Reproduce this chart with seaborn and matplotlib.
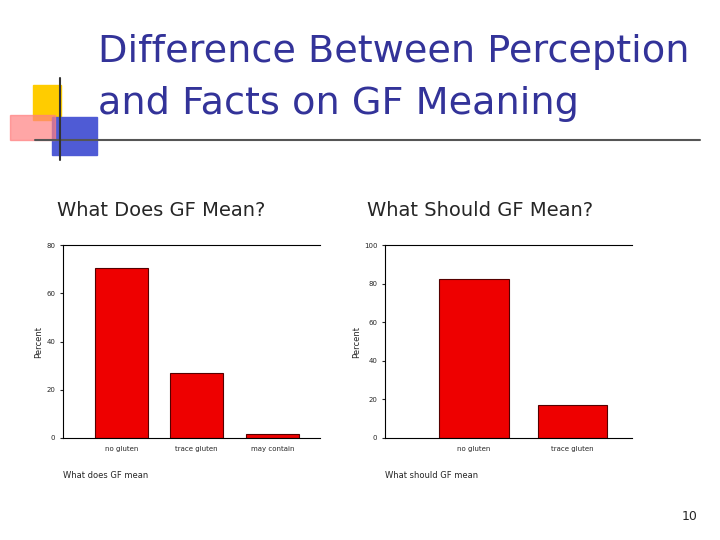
import matplotlib
matplotlib.use("Agg")
import matplotlib.pyplot as plt
import seaborn as sns
from matplotlib.patches import Rectangle
from matplotlib.lines import Line2D

does_cats = ["no gluten", "trace gluten", "may contain"]
does_pct = [70.5, 27.0, 1.7]
should_cats = ["no gluten", "trace gluten"]
should_pct = [82.5, 17.0]

sns.set_style("white")
fig = plt.figure(figsize=(7.2, 5.4), dpi=100)

W, H = 720, 540
def fx(x): return x / W
def fy(y): return 1 - y / H

# slide decoration
fig.patches.append(Rectangle((fx(33), fy(120)), 28/W, 35/H, transform=fig.transFigure, color="#ffcc00", zorder=0))
fig.patches.append(Rectangle((fx(52), fy(155)), 45/W, 38/H, transform=fig.transFigure, color="#4f5bd5", zorder=0))
fig.patches.append(Rectangle((fx(10), fy(140)), 45/W, 25/H, transform=fig.transFigure, color="#ff8080", alpha=0.7, zorder=0))
fig.lines.append(Line2D([fx(35), fx(700)], [fy(140), fy(140)], transform=fig.transFigure, color="#555555", lw=1.5))
fig.lines.append(Line2D([fx(60), fx(60)], [fy(78), fy(160)], transform=fig.transFigure, color="#333333", lw=1.5))

fig.text(fx(98), fy(52), "Difference Between Perception", fontsize=27.5, color="#333399", va="center")
fig.text(fx(98), fy(104), "and Facts on GF Meaning", fontsize=27.5, color="#333399", va="center")
fig.text(fx(57), fy(210), "What Does GF Mean?", fontsize=14, va="center")
fig.text(fx(367), fy(210), "What Should GF Mean?", fontsize=14, va="center")
fig.text(fx(698), fy(516), "10", fontsize=9, ha="right", va="center")

def panel(rect, cats, vals, ymax, xlabel):
    ax = fig.add_axes(rect)
    sns.barplot(x=cats, y=vals, ax=ax, color="#ee0000", edgecolor="#550000", linewidth=0.8, width=0.7, saturation=1)
    ax.set_ylim(0, ymax)
    ax.set_yticks(range(0, ymax + 1, 20))
    ax.tick_params(labelsize=5, length=2, left=True)
    ax.set_ylabel("Percent", fontsize=6, labelpad=2)
    ax.set_xlabel(xlabel, fontsize=6, loc="left", labelpad=14)
    for s in ["top", "left", "bottom"]:
        ax.spines[s].set_color("black")
        ax.spines[s].set_linewidth(0.8)
    ax.spines["right"].set_visible(False)
    return ax

ax1 = panel([fx(63), fy(438), 257/W, 193/H], does_cats, does_pct, 80, "What does GF mean")
ax1.set_xlim(-0.77, 2.63)
ax2 = panel([fx(385), fy(438), 247/W, 193/H], should_cats, should_pct, 100, "What should GF mean")
ax2.set_xlim(-0.9, 1.6)

fig.savefig("out.png", dpi=100)
